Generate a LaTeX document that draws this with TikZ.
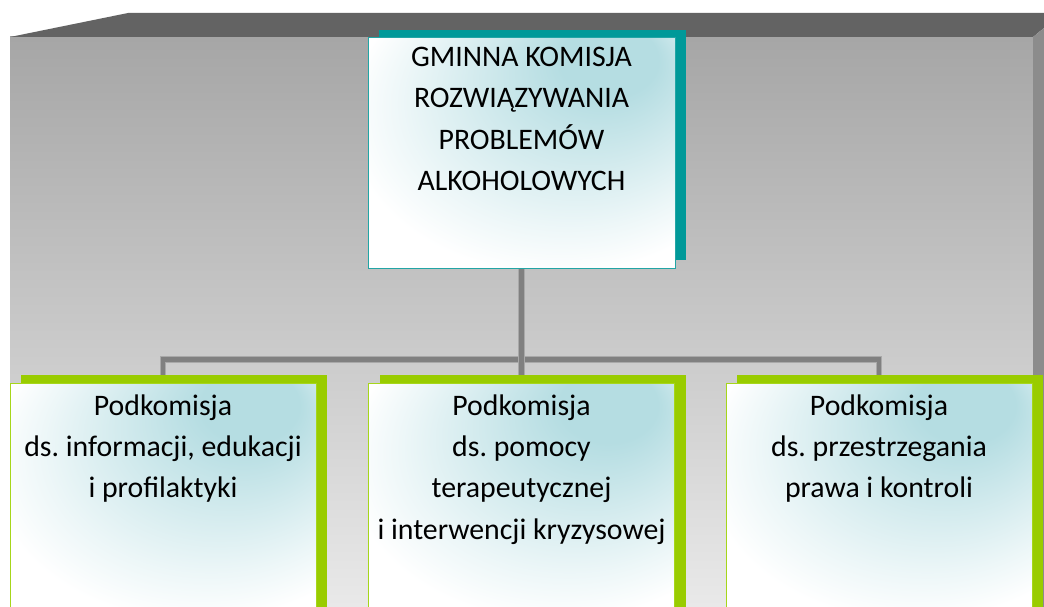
\documentclass[tikz,border=0pt]{standalone}
\usepackage{fontspec}
\setmainfont{Carlito}
\usetikzlibrary{shadows}
\definecolor{topgray}{HTML}{636363}
\definecolor{sidegray}{HTML}{8C8C8C}
\definecolor{faceTop}{HTML}{A6A6A6}
\definecolor{faceBot}{HTML}{E9E9E9}
\definecolor{tealdark}{HTML}{009999}
\definecolor{tealline}{HTML}{22A5A5}
\definecolor{limegreen}{HTML}{99CC00}
\definecolor{limeline}{HTML}{A6D61A}
\definecolor{boxcyan}{HTML}{B5DDE2}
\definecolor{connGray}{HTML}{808080}
\definecolor{connEdge}{HTML}{A9A9A9}
\pgfdeclareradialshading{boxshade}{\pgfpoint{17bp}{24bp}}{%
  color(0bp)=(boxcyan); color(8bp)=(boxcyan); color(18bp)=(boxcyan!60!white);
  color(27bp)=(boxcyan!25!white); color(34bp)=(white); color(50bp)=(white)}
\pgfdeclarelayer{back}
\pgfdeclarelayer{links}
\pgfsetlayers{back,links,main}
\begin{document}
\frenchspacing
\begin{tikzpicture}[x=1pt,y=-1pt,
  boxbase/.style={rectangle, inner sep=0pt, line width=1pt, shading=boxshade},
  mainbox/.style={boxbase, draw=tealline, minimum width=307pt, minimum height=230pt,
    general shadow={fill=tealdark, shadow xshift=11pt, shadow yshift=8pt}},
  subbox/.style={boxbase, draw=limeline, minimum width=306pt, minimum height=232pt,
    general shadow={fill=limegreen, shadow xshift=11pt, shadow yshift=8pt}},
  boxtext/.style={anchor=north, inner sep=0pt, align=center, font=\fontsize{29.8}{41.3}\selectfont},
  conn/.style={line width=4.5pt, draw=connGray, preaction={draw=connEdge, line width=6.5pt}},
]
\useasboundingbox (0,0) rectangle (1044,607);
\clip (0,0) rectangle (1044,607);
\begin{pgfonlayer}{back}
  \shade[top color=faceTop, bottom color=faceBot] (10,37) rectangle (1033,607);
  \fill[topgray] (10,37) -- (128,13) -- (1044,13) -- (1044,28) -- (1033,37) -- cycle;
  \fill[sidegray] (1033,37) -- (1044,28) -- (1044,607) -- (1033,607) -- cycle;
\end{pgfonlayer}

\node[mainbox] (top) at (521.5,153) {};
\node[subbox] (c1) at (163,499) {};
\node[subbox] (c2) at (521.5,499) {};
\node[subbox] (c3) at (879,499) {};

\node[boxtext] (ttop) at (521.5,47) {GMINNA KOMISJA\\ROZWIĄZYWANIA\\PROBLEMÓW\\ALKOHOLOWYCH};
\node[boxtext] (t1) at (163,394.5) {Podkomisja\\ds. informacji, edukacji\\i profilaktyki};
\node[boxtext] (t2) at (521.5,394.5) {Podkomisja\\ds. pomocy\\terapeutycznej\\i interwencji kryzysowej};
\node[boxtext] (t3) at (879,394.5) {Podkomisja\\ds. przestrzegania\\prawa i kontroli};

\begin{pgfonlayer}{links}
  \draw[conn] (top.south) |- ([yshift=23pt]c1.north) -- (c1.north);
  \draw[conn] (top.south) |- ([yshift=23pt]c3.north) -- (c3.north);
  \draw[conn] (top.south) -- (c2.north);
\end{pgfonlayer}
\end{tikzpicture}
\end{document}
